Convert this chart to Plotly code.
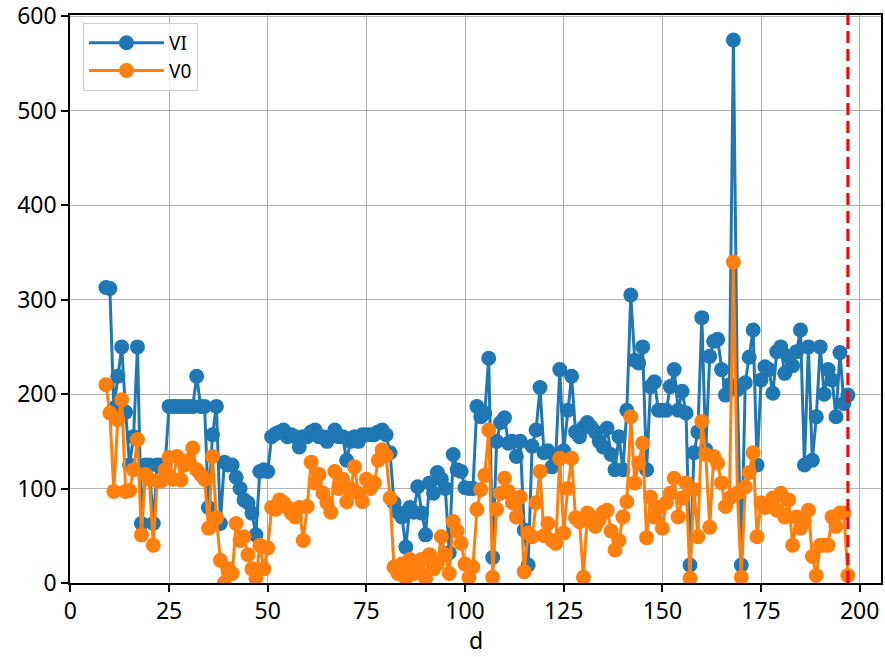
import plotly.graph_objects as go

d = list(range(9, 198))

vi = [313, 312, 185, 219, 250, 181, 125, 155, 250, 63,
      125, 125, 63, 125, 125, 125, 187, 187, 187, 187,
      187, 187, 187, 219, 187, 187, 80, 157, 187, 63,
      128, 125, 125, 112, 100, 88, 85, 74, 51, 118,
      120, 118, 155, 158, 160, 162, 155, 157, 155, 144,
      155, 155, 160, 162, 155, 155, 150, 155, 162, 155,
      155, 130, 150, 155, 150, 157, 157, 157, 157, 160,
      162, 157, 138, 85, 75, 70, 38, 80, 75, 102,
      74, 51, 106, 95, 117, 110, 100, 32, 136, 120,
      118, 101, 100, 100, 187, 176, 180, 238, 27, 150,
      170, 175, 148, 150, 134, 150, 56, 19, 145, 162,
      207, 138, 140, 123, 135, 226, 140, 183, 219, 160,
      155, 165, 170, 165, 160, 150, 144, 164, 136, 120,
      155, 120, 183, 305, 236, 233, 250, 120, 208, 213,
      183, 183, 183, 208, 226, 183, 203, 180, 19, 138,
      160, 281, 141, 240, 256, 258, 226, 199, 210, 575,
      205, 19, 212, 239, 268, 125, 215, 229, 226, 201,
      245, 250, 222, 240, 230, 245, 268, 125, 250, 130,
      176, 250, 200, 226, 215, 176, 244, 190, 199]

vo = [210, 180, 97, 173, 194, 97, 98, 120, 152, 51,
      115, 110, 40, 108, 108, 120, 133, 110, 134, 109,
      125, 130, 143, 120, 115, 110, 58, 134, 69, 24,
      0, 15, 10, 63, 45, 49, 30, 15, 5, 40,
      15, 37, 80, 78, 88, 85, 80, 74, 70, 80,
      45, 81, 128, 106, 115, 95, 85, 75, 118, 100,
      110, 86, 100, 123, 95, 86, 110, 100, 106, 130,
      141, 135, 90, 17, 10, 20, 5, 25, 10, 15,
      25, 5, 30, 15, 20, 49, 30, 10, 65, 55,
      42, 20, 6, 17, 78, 99, 114, 162, 6, 78,
      95, 111, 97, 85, 70, 91, 12, 53, 49, 85,
      118, 50, 63, 45, 42, 132, 53, 100, 132, 69,
      65, 6, 74, 70, 60, 67, 75, 77, 55, 35,
      45, 70, 86, 176, 106, 127, 148, 48, 91, 70,
      80, 58, 85, 95, 111, 70, 90, 106, 5, 99,
      49, 171, 136, 59, 134, 127, 106, 81, 90, 340,
      95, 6, 102, 117, 138, 49, 85, 80, 81, 90,
      77, 95, 70, 88, 40, 70, 58, 65, 77, 28,
      8, 40, 40, 40, 70, 60, 74, 74, 8]

cutoff = 197
x_title = "d"

FONT = "Noto Sans"
FS = 23

fig = go.Figure()
fig.add_trace(go.Scatter(x=d, y=vi, mode="lines+markers", name="VI",
                         line=dict(color="#1f77b4", width=3),
                         marker=dict(size=15, color="#1f77b4", line=dict(width=0))))
fig.add_trace(go.Scatter(x=d, y=vo, mode="lines+markers", name="V0",
                         line=dict(color="#ff7f0e", width=3),
                         marker=dict(size=15, color="#ff7f0e", line=dict(width=0))))

fig.add_shape(type="line", x0=cutoff, x1=cutoff, xref="x", y0=0, y1=1, yref="paper",
              line=dict(color="red", width=3, dash="12px,6px"), layer="above")

axis_common = dict(showline=True, linecolor="black", linewidth=1.5, mirror=True,
                   ticks="outside", ticklen=7, tickwidth=1.5, tickcolor="black",
                   showgrid=True, gridcolor="#b0b0b0", gridwidth=1.4, zeroline=False,
                   ticklabeloverflow="allow", automargin=False,
                   tickfont=dict(family=FONT, size=FS, color="black"))

fig.update_xaxes(range=[-0.1, 205.4], tickmode="array",
                 tickvals=[0, 25, 50, 75, 100, 125, 150, 175, 200],
                 **axis_common)
fig.update_yaxes(range=[0, 601.5], tickmode="array",
                 tickvals=[0, 100, 200, 300, 400, 500, 600], **axis_common)

fig.add_annotation(text=x_title, xref="paper", yref="paper", x=0.5, y=-0.1,
                   xanchor="center", yanchor="middle", showarrow=False,
                   font=dict(family=FONT, size=23, color="black"))

fig.update_layout(width=885, height=657,
                  margin=dict(l=70, r=4, t=15, b=74, autoexpand=False),
                  plot_bgcolor="white", paper_bgcolor="white",
                  font=dict(family=FONT, color="black"),
                  showlegend=True,
                  legend=dict(x=0.016, y=0.986, xanchor="left", yanchor="top",
                              bgcolor="rgba(255,255,255,0.8)", bordercolor="#cccccc",
                              borderwidth=1, itemwidth=75, tracegroupgap=0,
                              entrywidth=150, entrywidthmode="pixels",
                              font=dict(family=FONT, size=19)))

fig.write_html("out.html")
